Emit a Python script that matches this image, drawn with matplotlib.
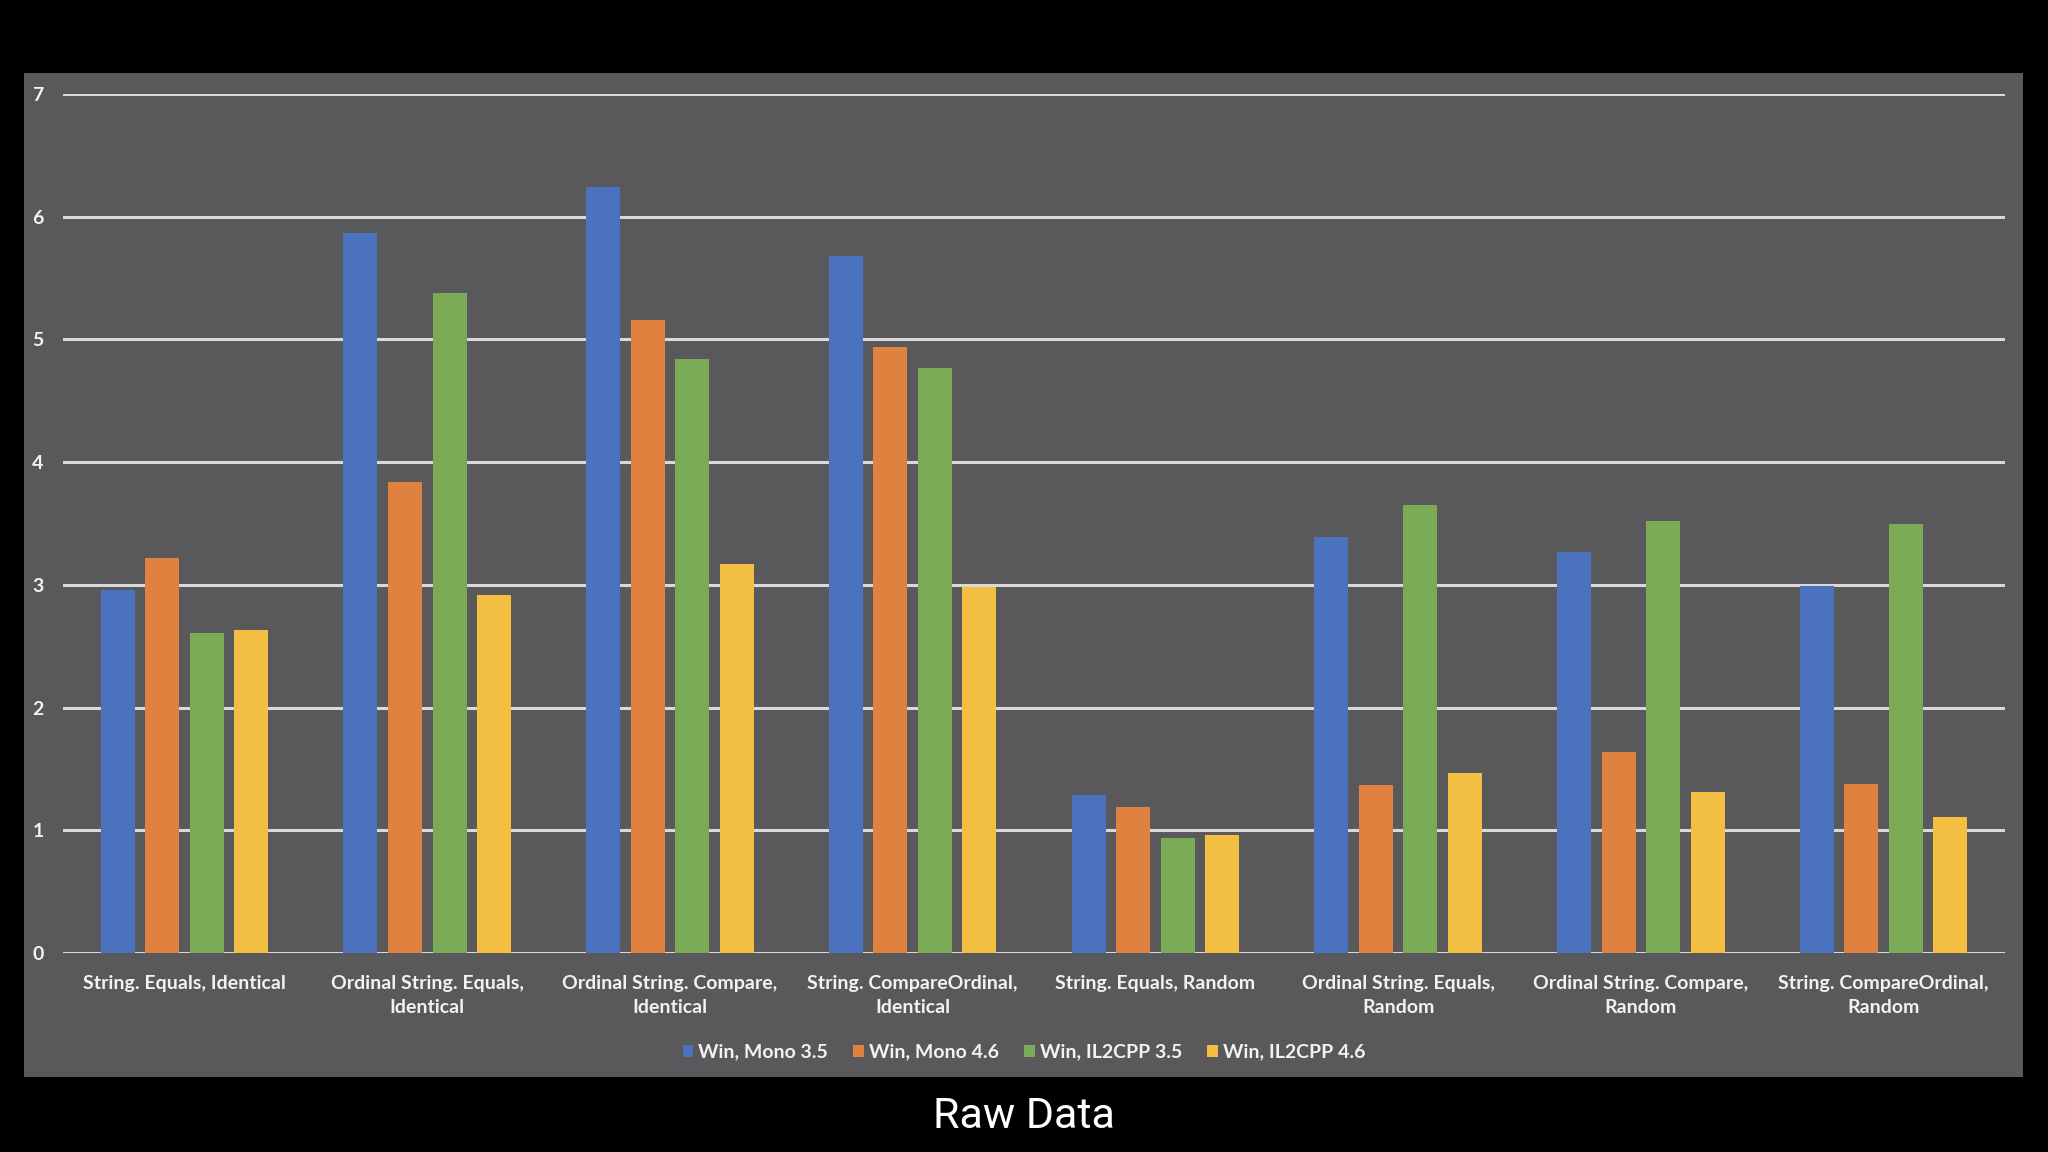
import matplotlib
matplotlib.use("Agg")
import matplotlib.pyplot as plt
import numpy as np
from matplotlib.patches import Rectangle

categories = [
    "String. Equals, Identical",
    "Ordinal String. Equals,\nIdentical",
    "Ordinal String. Compare,\nIdentical",
    "String. CompareOrdinal,\nIdentical",
    "String. Equals, Random",
    "Ordinal String. Equals,\nRandom",
    "Ordinal String. Compare,\nRandom",
    "String. CompareOrdinal,\nRandom",
]
series_names = ["Win, Mono 3.5", "Win, Mono 4.6", "Win, IL2CPP 3.5", "Win, IL2CPP 4.6"]
mono35 = [2.96, 5.87, 6.24, 5.68, 1.29, 3.39, 3.27, 2.99]
mono46 = [3.22, 3.84, 5.16, 4.94, 1.19, 1.37, 1.64, 1.38]
il2cpp35 = [2.61, 5.38, 4.84, 4.77, 0.94, 3.65, 3.52, 3.50]
il2cpp46 = [2.63, 2.92, 3.17, 2.98, 0.96, 1.47, 1.31, 1.11]
yticks = [0, 1, 2, 3, 4, 5, 6, 7]

colors = ["#4A72BF", "#E0823F", "#7AAA55", "#F3BF42"]
panel = "#59595B"
txt = "#F2F2F2"
font = ["Lato", "DejaVu Sans"]

fig = plt.figure(figsize=(20.48, 11.52), dpi=100, facecolor="black")
fig.patches.append(Rectangle((0.0115, 0.065), 0.9765, 0.8716, transform=fig.transFigure,
                             facecolor=panel, edgecolor="none", zorder=-5))

ax = fig.add_axes([0.0308, 0.1727, 0.9482, 0.7457])
ax.set_zorder(2)
ax.set_facecolor("none")
ax.patch.set_alpha(0)

x = np.arange(len(categories))
width = 0.14
offsets = [-0.275, -0.092, 0.092, 0.275]
for vals, off, c, name in zip([mono35, mono46, il2cpp35, il2cpp46], offsets, colors, series_names):
    ax.bar(x + off, vals, width=width, color=c, label=name, zorder=3)

ax.set_xlim(-0.5, len(categories) - 0.5)
ax.set_ylim(0, 7)
ax.set_yticks(yticks)
ax.set_yticklabels([str(t) for t in yticks], color=txt, fontsize=14, fontweight="bold", family=font)
ax.tick_params(axis="y", length=0, pad=14)
ax.tick_params(axis="x", length=0, pad=16)
ax.yaxis.grid(True, color="#D9D9D9", linewidth=2.2, zorder=1)
ax.set_axisbelow(True)
for s in ax.spines.values():
    s.set_visible(False)
ax.set_xticks(x)
ax.set_xticklabels(categories, color=txt, fontsize=14, fontweight="bold", family=font,
                   linespacing=1.5, va="top")

leg = fig.legend(loc="center", bbox_to_anchor=(0.5, 0.0866), ncol=4, frameon=False,
                 handlelength=0.55, handleheight=0.55, handletextpad=0.25, columnspacing=1.3,
                 prop={"family": font, "size": 14, "weight": "bold"})
for t in leg.get_texts():
    t.set_color(txt)

fig.text(0.5, 0.031, "Raw Data", ha="center", va="center", color="white",
         fontsize=31, family=["Roboto", "DejaVu Sans"])

fig.savefig("out.png", dpi=100, facecolor="black")
